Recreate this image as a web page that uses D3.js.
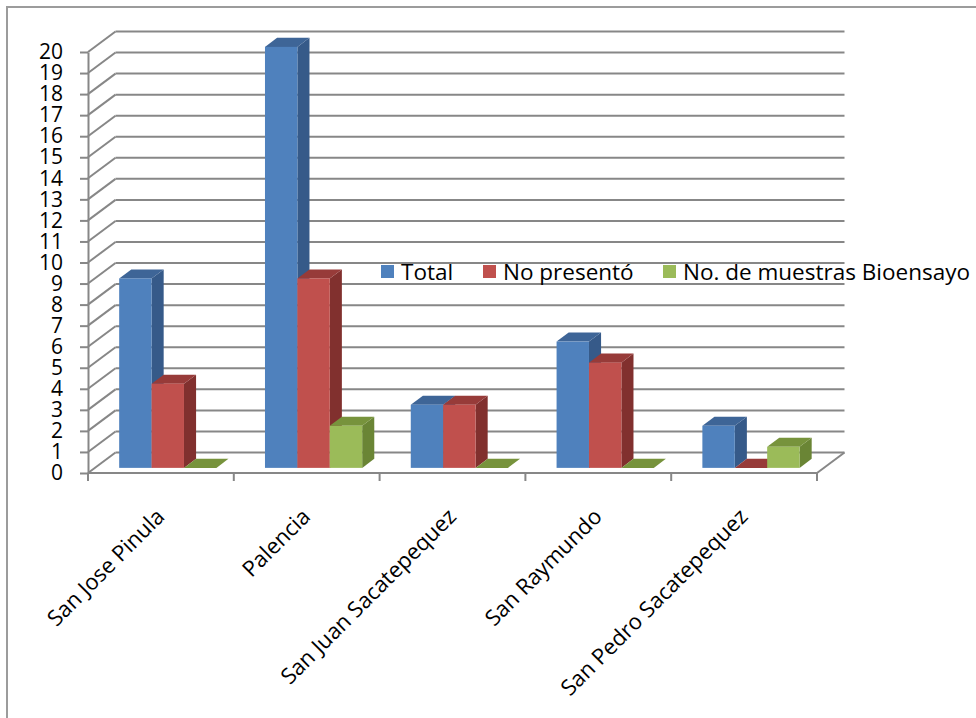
<!DOCTYPE html>
<html>
<head>
<meta charset="utf-8">
<script src="https://cdn.jsdelivr.net/npm/d3@7"></script>
<style>
  html, body { margin: 0; padding: 0; background: #fff; }
  svg { display: block; font-family: "Open Sans", "DejaVu Sans", sans-serif; }
</style>
</head>
<body>
<svg id="chart" width="976" height="718"></svg>
<script>
// Municipalities on the category axis
const categories = ["San Jose Pinula", "Palencia", "San Juan Sacatepequez", "San Raymundo", "San Pedro Sacatepequez"];
// Series names as shown in the legend
const seriesNames = ["Total", "No presentó", "No. de muestras Bioensayo"];
// Values per series, one per municipality
const totalValues = [9, 20, 3, 6, 2];
const noPresentoValues = [4, 9, 3, 5, 0];
const bioensayoValues = [0, 2, 0, 0, 1];
// Value-axis tick labels
const yTicks = d3.range(0, 21);

const seriesValues = [totalValues, noPresentoValues, bioensayoValues];
const palette = [
  { front: "#4F81BD", top: "#3E6597", side: "#365A89" },
  { front: "#C0504D", top: "#973B39", side: "#81302E" },
  { front: "#9BBB59", top: "#77933C", side: "#6A8535" }
];

const svg = d3.select("#chart");
const W = 976, H = 718;

// Chart frame
svg.append("path")
  .attr("d", `M7,${H} V7 H${W}`)
  .attr("fill", "none").attr("stroke", "#9c9c9c").attr("stroke-width", 2);

// Front plane of the 3-D box
const x = d3.scaleBand().domain(categories).range([88, 817]).paddingInner(0).paddingOuter(0);
const y = d3.scaleLinear().domain([0, 20]).range([473, 52]);
// Full depth of the box (back wall offset)
const DX = 27.5, DY = -20.5;
const gridColor = "#878787";

// Back wall gridlines and left wall diagonals
const grid = svg.append("g").attr("stroke", gridColor).attr("stroke-width", 2).attr("fill", "none");
yTicks.forEach(v => {
  grid.append("line")
    .attr("x1", x.range()[0] + DX).attr("x2", x.range()[1] + DX)
    .attr("y1", y(v) + DY).attr("y2", y(v) + DY);
  grid.append("line")
    .attr("x1", x.range()[0]).attr("x2", x.range()[0] + DX)
    .attr("y1", y(v)).attr("y2", y(v) + DY);
});
// Floor right edge
grid.append("line")
  .attr("x1", x.range()[1]).attr("x2", x.range()[1] + DX)
  .attr("y1", y(0)).attr("y2", y(0) + DY);

// Value axis
const yAxis = d3.axisLeft(y).tickValues(yTicks).tickSize(8).tickSizeOuter(0).tickPadding(17);
const yg = svg.append("g").attr("transform", `translate(${x.range()[0]},0)`).call(yAxis);
yg.select(".domain").attr("stroke", gridColor).attr("stroke-width", 2);
yg.selectAll(".tick line").attr("stroke", gridColor).attr("stroke-width", 2);
yg.selectAll(".tick text")
  .attr("font-family", "'Open Sans', sans-serif")
  .attr("font-size", 21).attr("fill", "#000");

// Category axis line and boundary ticks
const xg = svg.append("g").attr("stroke", gridColor).attr("stroke-width", 2);
xg.append("line")
  .attr("x1", x.range()[0]).attr("x2", x.range()[1])
  .attr("y1", y(0)).attr("y2", y(0));
categories.concat([null]).forEach((c, i) => {
  const xx = c === null ? x.range()[1] : x(c);
  xg.append("line").attr("x1", xx).attr("x2", xx).attr("y1", y(0)).attr("y2", y(0) + 8);
});

// Rotated category labels
svg.append("g").selectAll("text").data(categories).join("text")
  .attr("transform", d => `translate(${x(d) + x.bandwidth() / 2 + 5},${y(0) + 45}) rotate(-45)`)
  .attr("text-anchor", "end")
  .attr("font-size", 22).attr("fill", "#000")
  .text(d => d);

// 3-D columns
const barW = x.bandwidth() / 4.5;              // gap width 150%
const gap = x.bandwidth() - 3 * barW;
const xs = d3.scaleBand().domain(seriesNames).range([gap / 2, gap / 2 + 3 * barW]);
const F0 = 0.25;                                // front face depth position
const FD = 0.44;                                // column depth
const ox = DX * F0, oy = DY * F0;
const ddx = DX * FD, ddy = DY * FD;

const bars = svg.append("g");
categories.forEach((c, ci) => {
  seriesNames.forEach((s, si) => {
    const v = seriesValues[si][ci];
    const col = palette[si];
    const x0 = x(c) + xs(s) + ox;
    const x1 = x0 + barW;
    const yb = y(0) + oy;
    const yt = y(v) + oy;
    const g = bars.append("g");
    // side face
    g.append("path")
      .attr("d", `M${x1},${yt} L${x1 + ddx},${yt + ddy} L${x1 + ddx},${yb + ddy} L${x1},${yb} Z`)
      .attr("fill", col.side);
    // top face
    g.append("path")
      .attr("d", `M${x0},${yt} L${x0 + ddx},${yt + ddy} L${x1 + ddx},${yt + ddy} L${x1},${yt} Z`)
      .attr("fill", col.top);
    // front face
    g.append("rect")
      .attr("x", x0).attr("y", yt).attr("width", barW).attr("height", yb - yt)
      .attr("fill", col.front);
  });
});

// Legend
const legendItems = [
  { name: seriesNames[0], color: palette[0].front, x: 381 },
  { name: seriesNames[1], color: palette[1].front, x: 483 },
  { name: seriesNames[2], color: palette[2].front, x: 663 }
];
const lg = svg.append("g");
legendItems.forEach(it => {
  lg.append("rect").attr("x", it.x).attr("y", 265).attr("width", 13).attr("height", 13).attr("fill", it.color);
  lg.append("text").attr("x", it.x + 20).attr("y", 280)
    .attr("font-size", 22.5).attr("fill", "#000").text(it.name);
});
</script>
</body>
</html>
